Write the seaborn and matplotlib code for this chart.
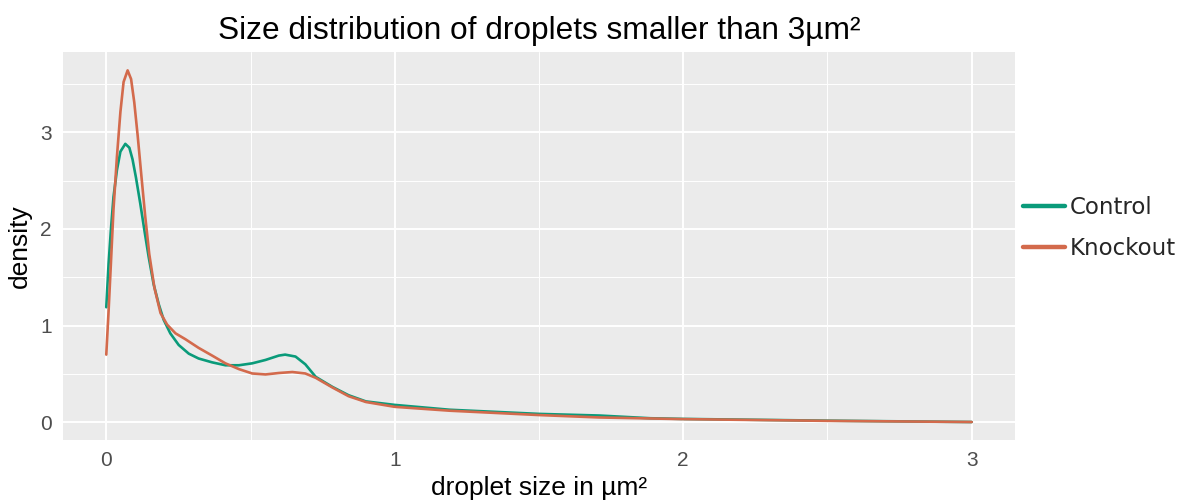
import matplotlib
matplotlib.use("Agg")
import matplotlib.pyplot as plt
import seaborn as sns
import pandas as pd
from matplotlib.ticker import MultipleLocator
from matplotlib.lines import Line2D

# Density curves
control_x = [0, 0.008, 0.016, 0.025, 0.037, 0.049, 0.066, 0.080, 0.091, 0.103,
             0.118, 0.133, 0.147, 0.164, 0.182, 0.199, 0.222, 0.251, 0.286, 0.32,
             0.367, 0.413, 0.46, 0.506, 0.552, 0.598, 0.62, 0.656, 0.69, 0.726,
             0.784, 0.84, 0.90, 1.0, 1.19, 1.5, 1.71, 1.886, 2.0, 2.5, 3.0]
control_y = [1.19, 1.64, 1.99, 2.33, 2.61, 2.80, 2.88, 2.84, 2.72, 2.53,
             2.26, 1.97, 1.71, 1.43, 1.22, 1.06, 0.92, 0.80, 0.71, 0.66,
             0.62, 0.59, 0.59, 0.61, 0.645, 0.69, 0.70, 0.68, 0.60, 0.47,
             0.366, 0.28, 0.216, 0.18, 0.13, 0.087, 0.07, 0.042, 0.035, 0.017, 0.003]

knockout_x = [0, 0.008, 0.016, 0.025, 0.037, 0.049, 0.060, 0.074, 0.086, 0.097,
              0.109, 0.122, 0.135, 0.149, 0.167, 0.188, 0.211, 0.240, 0.274, 0.32,
              0.367, 0.413, 0.46, 0.506, 0.552, 0.598, 0.645, 0.69, 0.726, 0.784,
              0.84, 0.90, 1.0, 1.19, 1.5, 1.71, 2.0, 2.5, 3.0]
knockout_y = [0.70, 1.15, 1.64, 2.20, 2.75, 3.21, 3.52, 3.64, 3.55, 3.31,
              2.96, 2.54, 2.13, 1.74, 1.39, 1.13, 1.01, 0.92, 0.86, 0.77,
              0.69, 0.61, 0.55, 0.505, 0.495, 0.51, 0.52, 0.505, 0.46, 0.36,
              0.27, 0.21, 0.16, 0.12, 0.075, 0.05, 0.033, 0.015, 0.003]

groups = ["Control", "Knockout"]
colors = {"Control": "#0A9B7A", "Knockout": "#D36A4C"}

df = pd.concat([
    pd.DataFrame({"size": control_x, "density": control_y, "group": "Control"}),
    pd.DataFrame({"size": knockout_x, "density": knockout_y, "group": "Knockout"}),
], ignore_index=True)

sns.set_style("darkgrid")
plt.rcParams["font.family"] = ["Liberation Sans", "DejaVu Sans"]

fig = plt.figure(figsize=(11.83, 5.04), dpi=100)
ax = fig.add_axes([63 / 1183, 1 - 440 / 504, (1015 - 63) / 1183, (440 - 52) / 504])
ax.set_facecolor("#EBEBEB")

sns.lineplot(data=df, x="size", y="density", hue="group", hue_order=groups,
             palette=colors, linewidth=1.9, ax=ax, legend=False, sort=False,
             estimator=None)

ax.set_xlim(-0.15, 3.15)
ax.set_ylim(-0.183, 3.83)
ax.xaxis.set_major_locator(MultipleLocator(1))
ax.xaxis.set_minor_locator(MultipleLocator(0.5))
ax.yaxis.set_major_locator(MultipleLocator(1))
ax.yaxis.set_minor_locator(MultipleLocator(0.5))
ax.grid(which="major", color="white", linewidth=1.4)
ax.grid(which="minor", color="white", linewidth=0.7)
ax.set_axisbelow(True)
for s in ax.spines.values():
    s.set_visible(False)
ax.tick_params(axis="both", which="major", length=5, width=1.1, color="#333333",
               labelcolor="#4D4D4D", labelsize=15, pad=3, direction="out")
ax.tick_params(axis="both", which="minor", length=0)
ax.set_xticklabels([str(int(v)) for v in ax.get_xticks()])
ax.set_yticklabels([str(int(v)) for v in ax.get_yticks()])

ax.set_xlabel("droplet size in µm²", fontsize=19, color="black", labelpad=4)
ax.set_ylabel("density", fontsize=19, color="black", labelpad=6)
ax.set_title("Size distribution of droplets smaller than 3µm²", fontsize=22.8,
             color="black", pad=9)

handles = [Line2D([0], [0], color=colors[g], linewidth=3.2) for g in groups]
leg = fig.legend(handles, groups, loc="center left",
                 bbox_to_anchor=(1002 / 1183, 1 - 228 / 504), frameon=False,
                 prop={"family": "DejaVu Sans", "size": 16.5}, handlelength=1.85,
                 handletextpad=0.2, labelspacing=0.75)

fig.savefig("out.png", dpi=100)
